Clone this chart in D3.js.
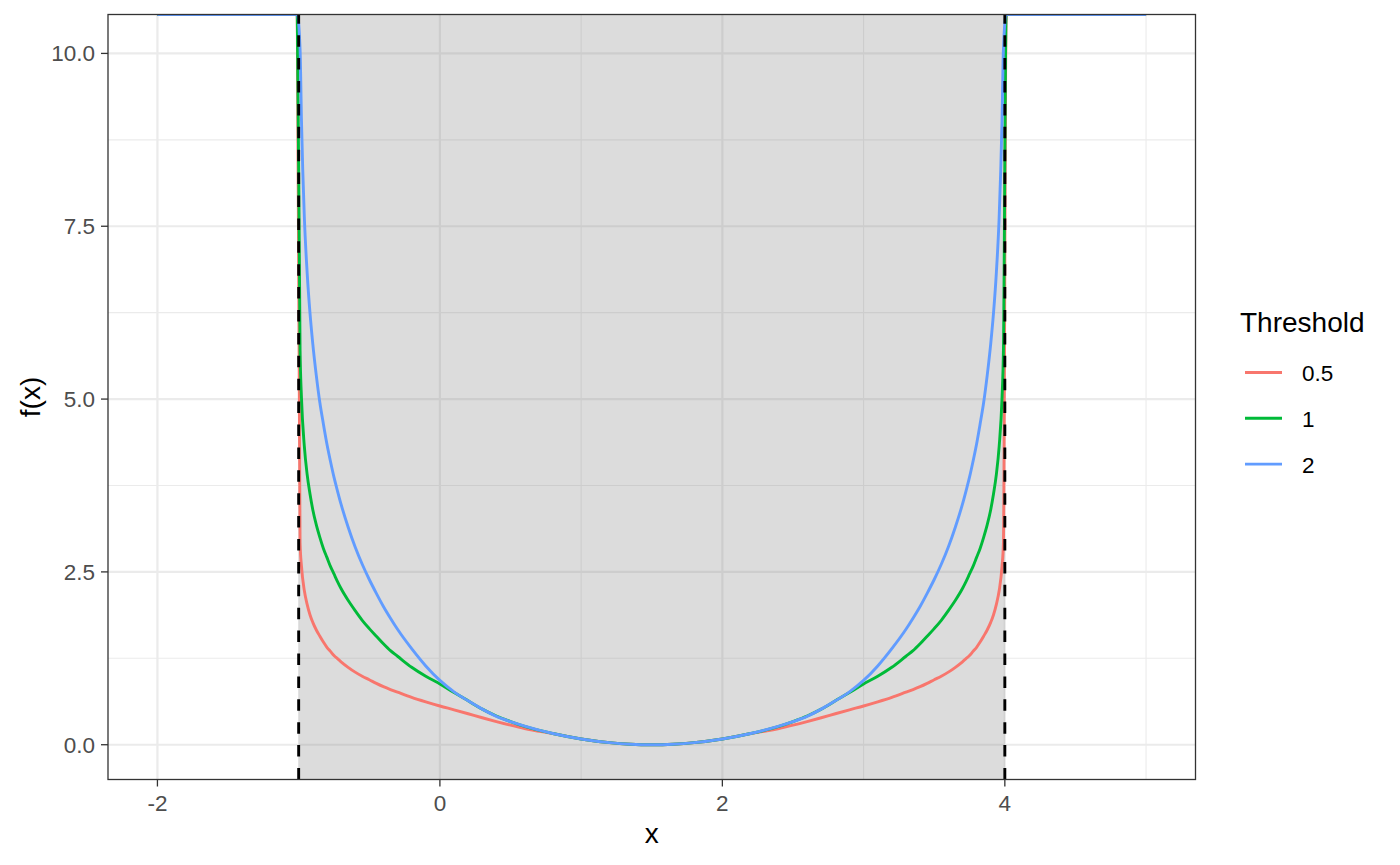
<!DOCTYPE html>
<html>
<head>
<meta charset="utf-8">
<script src="https://cdn.jsdelivr.net/npm/d3@7"></script>
<style>
  body { margin: 0; background: #fff; }
  text { font-family: "Liberation Sans", Arial, Helvetica, sans-serif; }
</style>
</head>
<body>
<svg class="root"></svg>
<script>
// x grid of the curves (Infinity = outside the interval, drawn at the panel top)
var xs = [-2, -1.01,
  -0.99, -0.98, -0.96, -0.94, -0.92, -0.9, -0.875, -0.85, -0.825, -0.8, -0.775, -0.75,
  -0.725, -0.7, -0.65, -0.6, -0.55, -0.5, -0.45, -0.4, -0.35, -0.3, -0.2, -0.1, 0,
  0.1, 0.2, 0.3, 0.4, 0.5, 0.6, 0.8, 1, 1.2, 1.35, 1.5,
  1.65, 1.8, 2, 2.2, 2.4, 2.5, 2.6, 2.7, 2.8, 2.9,
  3, 3.1, 3.2, 3.3, 3.35, 3.4, 3.45, 3.5, 3.55, 3.6, 3.65, 3.7, 3.725, 3.75, 3.775,
  3.8, 3.825, 3.85, 3.875, 3.9, 3.92, 3.94, 3.96, 3.98, 3.99,
  4.01, 5];

var fRed = [Infinity, Infinity,
  2.92, 2.58, 2.23, 2.03, 1.88, 1.77, 1.66, 1.57, 1.485, 1.41, 1.35, 1.29,
  1.245, 1.2, 1.12, 1.05, 0.99, 0.94, 0.888, 0.84, 0.798, 0.76, 0.685, 0.62, 0.56,
  0.505, 0.448, 0.39, 0.335, 0.283, 0.235, 0.16, 0.083, 0.03, 0.0075, 0,
  0.0075, 0.03, 0.083, 0.16, 0.235, 0.283, 0.335, 0.39, 0.448, 0.505,
  0.56, 0.62, 0.685, 0.76, 0.798, 0.84, 0.888, 0.94, 0.99, 1.05, 1.12, 1.2, 1.245, 1.29, 1.35,
  1.41, 1.485, 1.57, 1.66, 1.77, 1.88, 2.03, 2.23, 2.58, 2.92,
  Infinity, Infinity];

var fGreen = [Infinity, Infinity,
  5.7, 5.01, 4.32, 3.91, 3.63, 3.4, 3.18, 3.0, 2.84, 2.71, 2.58, 2.47,
  2.36, 2.26, 2.09, 1.94, 1.8, 1.68, 1.57, 1.46, 1.36, 1.28, 1.12, 0.99, 0.88,
  0.755, 0.635, 0.515, 0.415, 0.335, 0.265, 0.162, 0.083, 0.03, 0.0075, 0,
  0.0075, 0.03, 0.083, 0.162, 0.265, 0.335, 0.415, 0.515, 0.635, 0.755,
  0.88, 0.99, 1.12, 1.28, 1.36, 1.46, 1.57, 1.68, 1.8, 1.94, 2.09, 2.26, 2.36, 2.47, 2.58,
  2.71, 2.84, 3.0, 3.18, 3.4, 3.63, 3.91, 4.32, 5.01, 5.7,
  Infinity, Infinity];

var fBlue = [Infinity, Infinity,
  10.06, 9.02, 7.64, 6.83, 6.25, 5.8, 5.34, 4.95, 4.64, 4.35, 4.1, 3.87,
  3.67, 3.48, 3.15, 2.86, 2.61, 2.39, 2.19, 2.0, 1.83, 1.67, 1.39, 1.14, 0.93,
  0.765, 0.635, 0.515, 0.41, 0.335, 0.27, 0.162, 0.083, 0.03, 0.0075, 0,
  0.0075, 0.03, 0.083, 0.162, 0.27, 0.335, 0.41, 0.515, 0.635, 0.765,
  0.93, 1.14, 1.39, 1.67, 1.83, 2.0, 2.19, 2.39, 2.61, 2.86, 3.15, 3.48, 3.67, 3.87, 4.1,
  4.35, 4.64, 4.95, 5.34, 5.8, 6.25, 6.83, 7.64, 9.02, 10.06,
  Infinity, Infinity];

var thresholds = ["0.5", "1", "2"];
var colors = ["#F8766D", "#00BA38", "#619CFF"];
var series = [fRed, fGreen, fBlue];

var bounds = [-1, 4];            // shaded interval + dashed lines
var xTicks = [-2, 0, 2, 4];
var xMinor = [-1, 1, 3, 5];
var yTicks = [0, 2.5, 5, 7.5, 10];
var yTickLabels = ["0.0", "2.5", "5.0", "7.5", "10.0"];
var yMinor = [1.25, 3.75, 6.25, 8.75];

var W = 1400, H = 865,
    panel = {left: 108, right: 1195.5, top: 14.5, bottom: 779.5};

var svg = d3.select(".root")
    .attr("width", W)
    .attr("height", H);

var x = d3.scaleLinear()
    .domain([-2.35, 5.35])
    .range([panel.left, panel.right]);

var y = d3.scaleLinear()
    .domain([-0.503, 10.563])
    .range([panel.bottom, panel.top])
    .clamp(true);

svg.append("defs").append("clipPath")
    .attr("id", "clip")
  .append("rect")
    .attr("x", panel.left)
    .attr("y", panel.top)
    .attr("width", panel.right - panel.left)
    .attr("height", panel.bottom - panel.top);

var g = svg.append("g").attr("clip-path", "url(#clip)");

// grid
g.selectAll(".xminor").data(xMinor).enter().append("line")
    .attr("x1", d => x(d)).attr("x2", d => x(d))
    .attr("y1", panel.top).attr("y2", panel.bottom)
    .attr("stroke", "#EBEBEB").attr("stroke-width", 1.1);
g.selectAll(".yminor").data(yMinor).enter().append("line")
    .attr("y1", d => y(d)).attr("y2", d => y(d))
    .attr("x1", panel.left).attr("x2", panel.right)
    .attr("stroke", "#EBEBEB").attr("stroke-width", 1.1);
g.selectAll(".xmajor").data(xTicks).enter().append("line")
    .attr("x1", d => x(d)).attr("x2", d => x(d))
    .attr("y1", panel.top).attr("y2", panel.bottom)
    .attr("stroke", "#EBEBEB").attr("stroke-width", 2.2);
g.selectAll(".ymajor").data(yTicks).enter().append("line")
    .attr("y1", d => y(d)).attr("y2", d => y(d))
    .attr("x1", panel.left).attr("x2", panel.right)
    .attr("stroke", "#EBEBEB").attr("stroke-width", 2.2);

// shaded interval
g.append("rect")
    .attr("x", x(bounds[0]))
    .attr("width", x(bounds[1]) - x(bounds[0]))
    .attr("y", panel.top)
    .attr("height", panel.bottom - panel.top)
    .attr("fill", "#7F7F7F")
    .attr("fill-opacity", 0.27);

// curves
var line = d3.line()
    .curve(d3.curveMonotoneX)
    .x(d => x(d[0]))
    .y(d => y(d[1]));

series.forEach((vals, i) => {
  g.append("path")
      .datum(xs.map((xv, j) => [xv, vals[j]]))
      .attr("d", line)
      .attr("fill", "none")
      .attr("stroke", colors[i])
      .attr("stroke-width", 2.9)
      .attr("stroke-linejoin", "round");
});

// dashed bounds, drawn bottom to top
g.selectAll(".vline").data(bounds).enter().append("line")
    .attr("x1", d => x(d)).attr("x2", d => x(d))
    .attr("y1", panel.bottom).attr("y2", panel.top)
    .attr("stroke", "#000")
    .attr("stroke-width", 2.9)
    .attr("stroke-dasharray", "11.5,11.4");

// panel border
svg.append("rect")
    .attr("x", panel.left)
    .attr("y", panel.top)
    .attr("width", panel.right - panel.left)
    .attr("height", panel.bottom - panel.top)
    .attr("fill", "none")
    .attr("stroke", "#333333")
    .attr("stroke-width", 1.3);

// axes
svg.selectAll(".xtick").data(xTicks).enter().append("line")
    .attr("x1", d => x(d)).attr("x2", d => x(d))
    .attr("y1", panel.bottom).attr("y2", panel.bottom + 7)
    .attr("stroke", "#333333").attr("stroke-width", 1.3);
svg.selectAll(".xlab").data(xTicks).enter().append("text")
    .attr("x", d => x(d))
    .attr("y", 811)
    .attr("text-anchor", "middle")
    .attr("font-size", 22.5)
    .attr("fill", "#4D4D4D")
    .text(d => d);

svg.selectAll(".ytick").data(yTicks).enter().append("line")
    .attr("y1", d => y(d)).attr("y2", d => y(d))
    .attr("x1", panel.left - 7).attr("x2", panel.left)
    .attr("stroke", "#333333").attr("stroke-width", 1.3);
svg.selectAll(".ylab").data(yTicks).enter().append("text")
    .attr("x", 95)
    .attr("y", d => y(d) + 8)
    .attr("text-anchor", "end")
    .attr("font-size", 22.5)
    .attr("fill", "#4D4D4D")
    .text((d, i) => yTickLabels[i]);

svg.append("text")
    .attr("x", (panel.left + panel.right) / 2)
    .attr("y", 843)
    .attr("text-anchor", "middle")
    .attr("font-size", 28)
    .text("x");

svg.append("text")
    .attr("text-anchor", "middle")
    .attr("transform", "translate(40," + ((panel.top + panel.bottom) / 2) + ")rotate(-90)")
    .attr("font-size", 28)
    .text("f(x)");

// legend
var legend = svg.append("g");
legend.append("text")
    .attr("x", 1240)
    .attr("y", 332)
    .attr("font-size", 28)
    .text("Threshold");

var keys = legend.selectAll(".key").data(thresholds).enter().append("g")
    .attr("transform", (d, i) => "translate(0," + (372.5 + i * 45.8) + ")");
keys.append("line")
    .attr("x1", 1245).attr("x2", 1282)
    .attr("stroke", (d, i) => colors[i])
    .attr("stroke-width", 2.9);
keys.append("text")
    .attr("x", 1302)
    .attr("y", 8.5)
    .attr("font-size", 22.5)
    .text(d => d);
</script>
</body>
</html>
